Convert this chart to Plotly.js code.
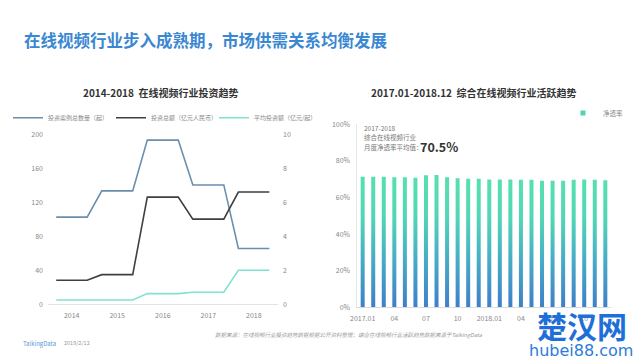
<!DOCTYPE html>
<html><head><meta charset="utf-8">
<script src="https://cdn.plot.ly/plotly-3.0.1.min.js"></script>
<style>html,body{margin:0;padding:0;background:#fff}#chart{width:640px;height:360px}</style>
</head><body><div id="chart"></div>
<script>
const years = [2014, 2015, 2016, 2017, 2018];
const dealCount = [103, 134, 194, 141, 66];          // 投资案例总数量（起）
const totalInvest = [1.42, 1.75, 6.33, 5.03, 6.63];  // 投资总额（亿元人民币）
const avgInvest = [0.25, 0.25, 0.63, 0.71, 2.01];    // 平均投资额（亿元/起）

const months = ["2017.01","2017.02","2017.03","2017.04","2017.05","2017.06","2017.07","2017.08","2017.09","2017.10","2017.11","2017.12",
                "2018.01","2018.02","2018.03","2018.04","2018.05","2018.06","2018.07","2018.08","2018.09","2018.10","2018.11","2018.12"];
const penetration = [71.4,71.4,71.3,71.1,71.1,70.8,72.1,72.3,71.0,70.5,70.2,70.2,
                     69.9,69.9,69.9,69.7,69.7,69.2,69.2,69.2,69.7,69.9,69.7,69.4];
const monthTickVals = ["2017.01","2017.04","2017.07","2017.10","2018.01","2018.04","2018.07","2018.10"];
const monthTickText = ["2017.01","04","07","10","2018.01","04","07","10"];

const HALF = 0.34;
const stepX = xs => xs.flatMap(x => [x - HALF, x + HALF]);
const stepY = vs => vs.flatMap(v => [v, v]);

const FONT = '"Noto Sans CJK SC", "Noto Sans", sans-serif';
const px = v => v / 640, py = v => 1 - v / 360;

const traces = [
  {x: stepX(years), y: stepY(dealCount), type: 'scatter', mode: 'lines', name: '投资案例总数量（起）',
   line: {color: '#6a8fae', width: 1.6}, xaxis: 'x', yaxis: 'y', legend: 'legend'},
  {x: stepX(years), y: stepY(totalInvest), type: 'scatter', mode: 'lines', name: '投资总额（亿元人民币）',
   line: {color: '#3f3f3f', width: 1.6}, xaxis: 'x', yaxis: 'y2', legend: 'legend'},
  {x: stepX(years), y: stepY(avgInvest), type: 'scatter', mode: 'lines', name: '平均投资额（亿元/起）',
   line: {color: '#80e2d0', width: 1.6}, xaxis: 'x', yaxis: 'y2', legend: 'legend'},
  {x: months, y: penetration, type: 'bar', name: '净透率', marker: {color: '#4fd4b4'},
   xaxis: 'x3', yaxis: 'y3', showlegend: false},
  {x: [null], y: [null], type: 'scatter', mode: 'markers', name: '净透率',
   marker: {symbol: 'square', size: 5, color: '#4fd4b4'}, xaxis: 'x3', yaxis: 'y3', legend: 'legend2'}
];

const tickFont = {family: FONT, size: 7, color: '#888'};
const layout = {
  width: 640, height: 360, margin: {l: 0, r: 0, t: 0, b: 0},
  paper_bgcolor: '#fff', plot_bgcolor: 'rgba(0,0,0,0)', font: {family: FONT},
  showlegend: true, bargap: 0.62,
  xaxis: {domain: [px(48), px(278)], range: [2013.48, 2018.53], tickvals: years, ticks: '',
          showgrid: false, zeroline: false, showline: true, linecolor: '#e3e3e3', linewidth: 1,
          tickfont: tickFont, ticklabelstandoff: 4, anchor: 'y', fixedrange: true},
  yaxis: {domain: [py(304.3), py(135)], range: [0, 200], dtick: 40, ticks: '', showgrid: false,
          zeroline: false, showline: false, tickfont: tickFont, ticklabelstandoff: 4, anchor: 'x'},
  yaxis2: {overlaying: 'y', side: 'right', range: [0, 10], dtick: 2, ticks: '', showgrid: false,
           zeroline: false, showline: false, tickfont: tickFont, ticklabelstandoff: 4, anchor: 'x'},
  xaxis3: {domain: [px(357.4), px(610.6)], type: 'category', categoryorder: 'array', categoryarray: months,
           tickvals: monthTickVals, ticktext: monthTickText, ticks: '', showgrid: false, zeroline: false,
           showline: true, linecolor: '#dcdcdc', tickfont: tickFont, ticklabelstandoff: 4, anchor: 'y3'},
  yaxis3: {domain: [py(307.3), py(124.3)], range: [0, 100], dtick: 20, ticksuffix: '%', ticks: '',
           showgrid: false, zeroline: false, showline: true, linecolor: '#e6e6e6', tickfont: tickFont,
           ticklabelstandoff: 5, anchor: 'x3'},
  legend: {orientation: 'h', x: px(8), y: py(117.7), xanchor: 'left', yanchor: 'middle',
           font: {family: FONT, size: 6, color: '#888'}, entrywidth: 58, itemwidth: 30,
           bgcolor: 'rgba(0,0,0,0)', tracegroupgap: 0},
  legend2: {orientation: 'h', x: px(563), y: py(113), xanchor: 'left', yanchor: 'middle',
            font: {family: FONT, size: 6.5, color: '#888'}, bgcolor: 'rgba(0,0,0,0)', itemwidth: 30},
  annotations: [
    {text: '<b>在线视频行业步入成熟期，市场供需关系均衡发展</b>', x: px(22), y: py(40), xref: 'paper', yref: 'paper',
     xanchor: 'left', yanchor: 'middle', showarrow: false, font: {family: FONT, size: 16.5, color: '#3a87d2'}},
    {text: '<b>2014-2018  在线视频行业投资趋势</b>', x: px(160), y: py(93), xref: 'paper', yref: 'paper',
     xanchor: 'center', yanchor: 'middle', showarrow: false, font: {family: FONT, size: 10, color: '#333'}},
    {text: '<b>2017.01-2018.12  综合在线视频行业活跃趋势</b>', x: px(474), y: py(93), xref: 'paper', yref: 'paper',
     xanchor: 'center', yanchor: 'middle', showarrow: false, font: {family: FONT, size: 10, color: '#333'}},
    {text: '2017-2018', x: px(362), y: py(128), xref: 'paper', yref: 'paper', xanchor: 'left', yanchor: 'middle',
     showarrow: false, font: {family: FONT, size: 6.5, color: '#777'}},
    {text: '综合在线视频行业', x: px(362), y: py(136.5), xref: 'paper', yref: 'paper', xanchor: 'left', yanchor: 'middle',
     showarrow: false, font: {family: FONT, size: 6.5, color: '#777'}},
    {text: '月度净透率平均值：', x: px(362), y: py(147), xref: 'paper', yref: 'paper', xanchor: 'left', yanchor: 'middle',
     showarrow: false, font: {family: FONT, size: 6.5, color: '#777'}},
    {text: '<b>70.5%</b>', x: px(418), y: py(146.5), xref: 'paper', yref: 'paper', xanchor: 'left', yanchor: 'middle',
     showarrow: false, font: {family: FONT, size: 12.5, color: '#333'}},
    {text: 'TalkingData', x: px(21), y: py(343), xref: 'paper', yref: 'paper', xanchor: 'left', yanchor: 'middle',
     showarrow: false, font: {family: FONT, size: 6, color: '#5a9bd6'}},
    {text: '2019/2/12', x: px(62), y: py(343), xref: 'paper', yref: 'paper', xanchor: 'left', yanchor: 'middle',
     showarrow: false, font: {family: FONT, size: 5.5, color: '#999'}},
    {text: '<i>数据来源：在线视频行业投资趋势数据根据公开资料整理；综合在线视频行业活跃趋势数据来源于TalkingData</i>', x: px(213), y: py(335), xref: 'paper', yref: 'paper',
     xanchor: 'left', yanchor: 'middle', showarrow: false, font: {family: FONT, size: 5.5, color: '#999'}},
    {text: '<b>楚汉网</b>', x: px(582), y: py(325), xref: 'paper', yref: 'paper', xanchor: 'center', yanchor: 'middle',
     showarrow: false, font: {family: FONT, size: 30, color: '#1f6fd8'}},
    {text: 'hubei88.com', x: px(581), y: py(350), xref: 'paper', yref: 'paper', xanchor: 'center', yanchor: 'middle',
     showarrow: false, font: {family: '"DejaVu Sans", sans-serif', size: 16, color: '#2b7bdc'}}
  ]
};

Plotly.newPlot('chart', traces, layout, {staticPlot: true, displayModeBar: false}).then(gd => {
  const svg = gd.querySelector('svg.main-svg');
  const ns = 'http://www.w3.org/2000/svg';
  let defs = svg.querySelector('defs');
  if (!defs) { defs = document.createElementNS(ns, 'defs'); svg.insertBefore(defs, svg.firstChild); }
  const grad = document.createElementNS(ns, 'linearGradient');
  grad.setAttribute('id', 'barGrad');
  grad.setAttribute('x1', '0'); grad.setAttribute('y1', '0'); grad.setAttribute('x2', '0'); grad.setAttribute('y2', '1');
  [['0', '#56e0b0'], ['0.3', '#52d6b6'], ['0.62', '#47aec6'], ['1', '#3e7fc8']].forEach(([o, c]) => {
    const s = document.createElementNS(ns, 'stop');
    s.setAttribute('offset', o); s.setAttribute('stop-color', c); grad.appendChild(s);
  });
  defs.appendChild(grad);
  gd.querySelectorAll('.barlayer .point path').forEach(p => { p.style.fill = 'url(#barGrad)'; });
});
</script>
</body></html>
